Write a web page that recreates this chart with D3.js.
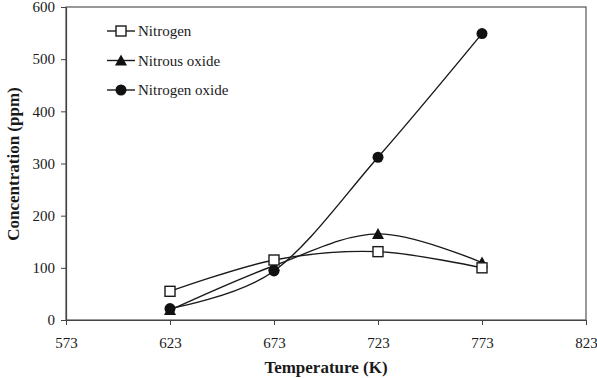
<!DOCTYPE html>
<html><head><meta charset="utf-8">
<script src="https://cdn.jsdelivr.net/npm/d3@7"></script>
<style>body{margin:0;background:#fff}svg{display:block}</style>
</head><body>
<svg id="c" width="597" height="378"></svg>
<script>
const temperatures = [623, 673, 723, 773];
const nitrogen = [55, 115, 131, 100];
const nitrousOxide = [19, 104, 165, 110];
const nitrogenOxide = [22, 94, 312, 549];
const xTicks = [573, 623, 673, 723, 773, 823];
const yTicks = [0, 100, 200, 300, 400, 500, 600];
const seriesNames = ["Nitrogen", "Nitrous oxide", "Nitrogen oxide"];

const svg = d3.select("#c");
const L = 66, R = 586, T = 7, B = 320;
const x = d3.scaleLinear().domain([573, 823]).range([L, R]);
const y = d3.scaleLinear().domain([0, 600]).range([B, T]);
const font = "'Liberation Serif','Times New Roman',serif";
const ink = "#1a1a1a";

svg.append("rect").attr("x", L).attr("y", T).attr("width", R - L).attr("height", B - T)
  .attr("fill", "none").attr("stroke", "#555").attr("stroke-width", 1.2);

const xa = svg.append("g").attr("transform", `translate(0,${B})`)
  .call(d3.axisBottom(x).tickValues(xTicks).tickSize(5).tickSizeOuter(0).tickPadding(12));
const ya = svg.append("g").attr("transform", `translate(${L},0)`)
  .call(d3.axisLeft(y).tickValues(yTicks).tickSize(5).tickSizeOuter(0).tickPadding(6));
[xa, ya].forEach(a => {
  a.select(".domain").attr("stroke", "#444").attr("stroke-width", 1.2);
  a.selectAll(".tick line").attr("stroke", "#444");
  a.selectAll("text").attr("font-family", font).attr("font-size", 15).attr("fill", ink);
});

const series = [
  {name: seriesNames[0], vals: nitrogen, mark: "square"},
  {name: seriesNames[1], vals: nitrousOxide, mark: "triangle"},
  {name: seriesNames[2], vals: nitrogenOxide, mark: "circle"}
];
const line = d3.line().x(d => x(d[0])).y(d => y(d[1])).curve(d3.curveCardinal.tension(0));

function drawMark(g, kind, cx, cy) {
  if (kind === "square") g.append("rect").attr("x", cx - 5).attr("y", cy - 5).attr("width", 10).attr("height", 10)
    .attr("fill", "#fff").attr("stroke", ink).attr("stroke-width", 1.4);
  else if (kind === "triangle") g.append("path").attr("d", `M${cx},${cy - 6}L${cx + 6},${cy + 5}L${cx - 6},${cy + 5}Z`).attr("fill", "#111");
  else g.append("circle").attr("cx", cx).attr("cy", cy).attr("r", 5.5).attr("fill", "#111");
}

series.forEach(s => {
  const pts = temperatures.map((t, i) => [t, s.vals[i]]);
  svg.append("path").attr("d", line(pts)).attr("fill", "none").attr("stroke", ink).attr("stroke-width", 1.4);
});
[2, 1, 0].forEach(k => {
  const s = series[k];
  const g = svg.append("g");
  temperatures.forEach((t, i) => drawMark(g, s.mark, x(t), y(s.vals[i])));
});

series.forEach((s, i) => {
  const ly = 31 + i * 29.5;
  const g = svg.append("g");
  g.append("line").attr("x1", 107).attr("x2", 135).attr("y1", ly).attr("y2", ly).attr("stroke", ink).attr("stroke-width", 1.4);
  drawMark(g, s.mark, 121, ly);
  g.append("text").attr("x", 138).attr("y", ly + 5).attr("font-family", font).attr("font-size", 15).attr("fill", ink).text(s.name);
});

svg.append("text").attr("x", 326).attr("y", 373).attr("text-anchor", "middle").attr("font-family", font)
  .attr("font-weight", "bold").attr("font-size", 17).attr("fill", ink).text("Temperature (K)");
svg.append("text").attr("transform", "translate(19,164) rotate(-90)").attr("text-anchor", "middle").attr("font-family", font)
  .attr("font-weight", "bold").attr("font-size", 17).attr("fill", ink).text("Concentration (ppm)");
</script>
</body></html>
